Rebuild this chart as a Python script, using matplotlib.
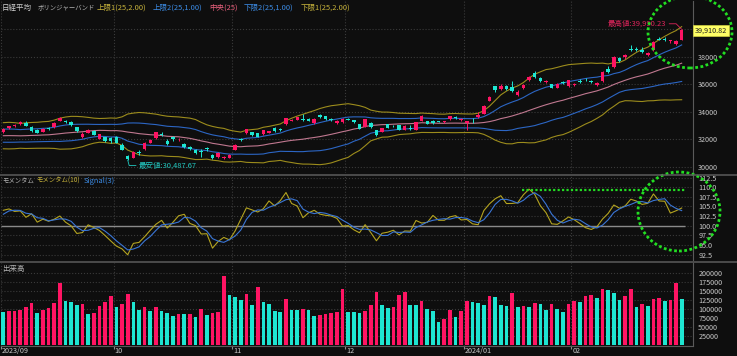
import numpy as np
import pandas as pd
import matplotlib.pyplot as plt
from matplotlib.patches import Ellipse
from matplotlib.lines import Line2D

plt.rcParams['font.family'] = ['Noto Sans CJK JP', 'DejaVu Sans']

# Trading days (TSE holidays removed)
holidays = ['2023-09-18', '2023-10-09', '2023-11-03', '2023-11-23',
            '2024-01-01', '2024-01-02', '2024-01-03', '2024-01-08',
            '2024-02-12', '2024-02-23']
dates = pd.bdate_range('2023-09-01', '2024-03-01', freq='C', holidays=holidays)

# closes before the visible window (needed for the 25-day bands / momentum)
pre_close = [32759.23, 33172.22, 33476.58, 32707.69, 32159.28, 32192.75, 32254.56, 32377.29,
             32204.33, 32473.65, 32059.91, 32238.89, 31766.82, 31626.00, 31450.76, 31565.64,
             31856.71, 32010.26, 32287.21, 31624.28, 32169.99, 32226.97, 32333.46, 32619.34]

close = [
    # Sep
    32710.62, 32939.18, 33036.76, 33241.02, 32991.08, 32606.84, 32467.76, 32776.37, 32706.52, 33168.10,
    33533.09, 33242.59, 33023.78, 32571.03, 32402.41, 32678.62, 32315.05, 32371.90, 31872.52, 31857.62,
    # Oct
    31759.88, 31237.94, 30526.88, 31075.36, 30994.67, 31746.53, 31936.51, 32494.66, 32315.99, 31659.03,
    32040.29, 32042.25, 31430.62, 31259.36, 30999.55, 31062.35, 31269.92, 30601.78, 30991.69, 30696.96,
    30858.85,
    # Nov
    31601.65, 31949.89, 32708.48, 32271.82, 32166.48, 32646.46, 32568.11, 32585.11, 32695.93, 33519.70,
    33424.41, 33585.20, 33388.03, 33354.14, 33451.83, 33625.53, 33447.67, 33408.39, 33321.22, 33486.89,
    # Dec
    33431.51, 33231.27, 32775.82, 33445.90, 32858.31, 32307.86, 32791.80, 32843.72, 32926.35, 32686.25,
    32970.55, 32758.98, 33219.39, 33675.94, 33140.47, 33169.05, 33254.03, 33305.85, 33681.24, 33539.62,
    33464.17,
    # Jan
    33288.29, 33377.42, 33763.18, 34441.72, 35049.86, 35577.11, 35901.79, 35619.18, 35477.75, 35466.17,
    35963.27, 36546.95, 36517.57, 36226.48, 36236.47, 35751.07, 36026.94, 36065.86, 36286.71,
    # Feb
    36011.46, 36158.02, 36354.16, 36160.66, 36119.92, 36863.28, 36897.42, 37963.97, 37703.32, 38157.94,
    38487.24, 38470.38, 38363.61, 38262.16, 39098.68, 39233.71, 39239.52, 39208.03, 39166.19,
    # Mar
    39910.82]

open_ = [
    32500, 32790, 32940, 33100, 33180, 32900, 32700, 32560, 32790, 32900,
    33350, 33300, 33260, 32880, 32150, 32470, 32600, 32050, 32150, 32100,
    32150, 31580, 30770, 30650, 31050, 31300, 31750, 32100, 32380, 31900,
    32150, 31980, 31650, 31420, 31250, 31150, 31330, 30850, 30700, 30620,
    30650,
    31250, 32050, 32450, 32500, 32420, 32350, 32480, 32800, 32720, 33100,
    33350, 33420, 33500, 33450, 33150, 33780, 33700, 33480, 33150, 33250,
    33500, 33400, 33100, 32900, 33200, 32650, 32550, 33100, 32970, 33030,
    32700, 32850, 32700, 33350, 33320, 33320, 33330, 33230, 33450, 33650,
    33380,
    33190, 33400, 33600, 33850, 34800, 35850, 35650, 35900, 35800, 35250,
    35700, 36300, 36800, 36450, 36150, 36000, 35750, 36150, 35850,
    35950, 36250, 36400, 36250, 35950, 36200, 37100, 37250, 37880, 37950,
    38550, 38550, 38520, 38150, 38500, 39300, 39300, 39150, 38900,
    39250]

high = [
    32840, 32990, 33120, 33320, 33320, 32950, 32760, 32840, 32870, 33230,
    33630, 33420, 33300, 32900, 32490, 32740, 32650, 32410, 32180, 32150,
    32250, 31700, 30850, 31130, 31250, 31790, 32000, 32540, 32560, 31980,
    32260, 32120, 31700, 31480, 31300, 31300, 31450, 30900, 31050, 30760,
    30900,
    31650, 32120, 32770, 32560, 32470, 32700, 32620, 32880, 32800, 33560,
    33480, 33620, 33850, 33510, 33520, 33800, 33720, 33540, 33400, 33520,
    33540, 33420, 33130, 33480, 33220, 32700, 32830, 33140, 33020, 33060,
    33000, 33000, 33250, 33740, 33360, 33380, 33360, 33340, 33720, 33690,
    33520,
    33330, 33570, 33990, 34510, 35140, 35900, 35990, 35920, 36200, 35560,
    36010, 36600, 36984, 36520, 36300, 36040, 36080, 36200, 36330,
    36120, 36370, 36470, 36330, 36190, 36940, 37290, 38040, 37960, 38200,
    38865, 38690, 38700, 38340, 39160, 39430, 39430, 39250, 39200,
    39990.23]

low = [
    32420, 32720, 32880, 33000, 32960, 32560, 32420, 32520, 32670, 32850,
    33300, 33180, 32970, 32520, 32080, 32420, 32280, 31990, 31820, 31760,
    31700, 31200, 30487.67, 30610, 30870, 31250, 31700, 32050, 32250, 31600,
    31850, 31900, 31380, 31200, 30960, 30700, 31150, 30550, 30650, 30550,
    30600,
    31200, 31900, 32400, 32240, 32140, 32300, 32430, 32540, 32600, 33050,
    33300, 33390, 33350, 33300, 33100, 33550, 33420, 33350, 33100, 33200,
    33380, 33180, 32740, 32880, 32830, 32210, 32520, 32800, 32860, 32640,
    32680, 32680, 32680, 33320, 33100, 33140, 33230, 33190, 33420, 33500,
    33360,
    32693, 33210, 33560, 33800, 34750, 35400, 35600, 35580, 35400, 35170,
    35650, 36250, 36460, 36160, 36080, 35700, 35700, 36000, 35800,
    35880, 36080, 36250, 36100, 35880, 36160, 36800, 37200, 37640, 37860,
    38400, 38410, 38300, 38080, 38420, 39200, 39170, 38980, 38880,
    39240]

volume = [
    93000, 93800, 94500, 98000, 105000, 118000, 88000, 98000, 102000, 117000,
    172000, 121000, 118500, 111000, 115000, 86000, 89000, 109000, 119000, 136000,
    106000, 113000, 142000, 118500, 98000, 105000, 93500, 105000, 94000, 88000,
    80000, 86000, 85000, 87000, 78000, 101000, 83000, 89000, 92500, 191500,
    138000,
    134000, 125000, 142500, 111000, 161000, 119500, 115000, 95500, 91500, 128000,
    98000, 96500, 99000, 96000, 79500, 84500, 86000, 88000, 92500, 156500,
    91700, 91400, 89800, 94400, 110000, 148000, 110000, 102000, 104600, 139000,
    147000, 112000, 110200, 122000, 100000, 93500, 63000, 71300, 98000, 77000,
    93500,
    122000, 120400, 116700, 110200, 135200, 133300, 110200, 108300, 145400, 104600,
    107400, 104600, 116700, 113000, 98100, 113900, 100000, 90700, 114800,
    123100, 120400, 135200, 139800, 131500, 156500, 151900, 145400, 125000, 135200,
    156500, 106500, 113000, 108300, 127800, 129600, 123100, 125000, 172200,
    126900]

month_labels = ['2023/09', '10', '11', '12', '2024/01', '02']
price_ticks = [30000, 32000, 34000, 36000, 38000, 40000]
mom_ticks = [92.5, 95.0, 97.5, 100.0, 102.5, 105.0, 107.5, 110.0, 112.5]
vol_ticks = [25000, 50000, 75000, 100000, 125000, 150000, 175000, 200000]

# Indicators
n_pre = len(pre_close)
s = pd.Series(pre_close + close)
mid = s.rolling(25).mean()
sd = s.rolling(25).std(ddof=0)
mom = s / s.shift(10) * 100
sig = mom.rolling(3).mean()
mid, sd, mom, sig = [v.values[n_pre:] for v in (mid, sd, mom, sig)]

o = np.array(open_, float)
c = np.array(close, float)
h = np.array(high, float)
l = np.array(low, float)
v = np.array(volume, float)
x = np.arange(len(c))
month_pos = pd.Series(np.arange(len(dates)), index=dates).groupby(dates.to_period('M')).first().values[:6] - 0.5

# Colours
BG = '#0e0e0e'
UP = '#ff1463'
DN = '#1ee6d2'
OLIVE = '#9c8c1c'
BLUE = '#2c66c4'
PINK = '#c07890'
GRID = '#3a3a3a'
TXT = '#c8c8c8'
GREEN = '#22dd22'

W, H = 737, 356
L, R = 0.5, 692.7

fig = plt.figure(figsize=(W / 100, H / 100), dpi=100)
fig.patch.set_facecolor(BG)


def panel(top, bottom):
    ax = fig.add_axes([L / W, 1 - bottom / H, (R - L) / W, (bottom - top) / H], facecolor=BG)
    ax.set_xlim(-0.5, 121.95)
    for sp in ('top', 'left', 'bottom'):
        ax.spines[sp].set_visible(False)
    ax.spines['right'].set_color('#5a5a5a')
    ax.yaxis.tick_right()
    ax.tick_params(axis='y', length=0, pad=4, labelsize=5.2, labelcolor=TXT)
    ax.set_xticks(month_pos)
    ax.tick_params(axis='x', length=0, labelbottom=False)
    ax.grid(True, color=GRID, ls=':', lw=0.8)
    ax.set_axisbelow(True)
    return ax


# Price panel
ax_p = panel(1, 173)
ax_p.set_ylim(29542, 42051)
ax_p.set_yticks(price_ticks)
# top label sits under the price tag in the original, so leave it blank
ax_p.set_yticklabels([str(t) for t in price_ticks[:-1]] + [''])

ax_p.plot(x, mid + 2 * sd, color=OLIVE, lw=0.8)
ax_p.plot(x, mid + sd, color=BLUE, lw=0.8)
ax_p.plot(x, mid, color=PINK, lw=0.8)
ax_p.plot(x, mid - sd, color=BLUE, lw=0.8)
ax_p.plot(x, mid - 2 * sd, color=OLIVE, lw=0.8)

cols = np.where(c >= o, UP, DN)
ax_p.vlines(x, l, h, colors=cols, lw=0.7, zorder=3)
body = np.maximum(np.abs(c - o), 45)
ax_p.bar(x, body, bottom=np.minimum(o, c), width=0.62, color=cols, zorder=4)

# high / low annotations
i_hi = int(np.argmax(h))
ax_p.annotate(f'最高値:{h[i_hi]:,.2f}', xy=(i_hi, h[i_hi]), xytext=(-11, 4), textcoords='offset points',
              ha='right', va='center', fontsize=5.4, color='#e0245c',
              arrowprops=dict(arrowstyle='-', color='#e0245c', lw=0.6, shrinkA=0, shrinkB=0,
                              connectionstyle='angle,angleA=0,angleB=135'))
i_lo = int(np.argmin(l))
ax_p.annotate(f'最安値:{l[i_lo]:,.2f}', xy=(i_lo, l[i_lo]), xytext=(8, -4), textcoords='offset points',
              ha='left', va='center', fontsize=5.4, color='#22c8c0',
              arrowprops=dict(arrowstyle='-', color='#22c8c0', lw=0.6, shrinkA=0, shrinkB=0,
                              connectionstyle='angle,angleA=0,angleB=-75'))

# last price tag
ax_p.text(1.0035, c[-1], f'{c[-1]:,.2f}', transform=ax_p.get_yaxis_transform(), clip_on=False,
          ha='left', va='center', fontsize=5.2, color='#202020', zorder=10,
          bbox=dict(boxstyle='square,pad=0.25', fc='#ffff66', ec='#d0d040', lw=0.5))

# Momentum panel
ax_m = panel(176, 260)
ax_m.set_ylim(91.09, 112.91)
ax_m.set_yticks(mom_ticks)
ax_m.set_yticklabels([f'{t:.1f}' for t in mom_ticks])
ax_m.hlines(100, -0.5, len(c) - 0.4, color='#8a8a8a', lw=1.0)
ax_m.plot(x, mom, color='#b4a420', lw=0.8)
ax_m.plot(x, sig, color='#3a76d6', lw=0.8)

# Volume panel
ax_v = panel(263, 346)
ax_v.set_ylim(-2778, 227778)
ax_v.set_yticks(vol_ticks)
ax_v.set_yticklabels([str(t) for t in vol_ticks])
vcols = [DN] + [UP if v[i] > v[i - 1] else DN for i in range(1, len(v))]
ax_v.bar(x, v, width=0.65, color=vcols)
ax_v.spines['bottom'].set_visible(True)
ax_v.spines['bottom'].set_color('#5a5a5a')
ax_v.tick_params(axis='x', length=2, color='#8a8a8a')
for pos, lab in zip(month_pos, month_labels):
    ax_v.text(pos + 0.15, -0.06, lab, transform=ax_v.get_xaxis_transform(),
              ha='left', va='center', fontsize=5.2, color=TXT)


# panel captions
def cap(px, py, s, color, size=5.4):
    fig.text(px / W, 1 - py / H, s, fontsize=size, color=color, ha='left', va='center')


cap(2, 8, '日経平均', '#d0d0d0')
cap(38, 8, 'ボリンジャーバンド', '#b4b4b4', 4.6)
cap(97, 8, '上限1(25,2.00)', '#c8b43c')
cap(153, 8, '上限2(25,1.00)', '#3c8ce6')
cap(209, 8, '中央(25)', '#e8607c')
cap(244, 8, '下限2(25,1.00)', '#3c8ce6')
cap(301, 8, '下限1(25,2.00)', '#c8b43c')
cap(2.5, 181, 'モメンタム', '#b4b4b4', 4.6)
cap(36, 181, 'モメンタム(10)', '#c8b43c', 4.6)
cap(84, 181, 'Signal(3)', '#3c8ce6')
cap(2.5, 268.5, '出来高', '#b4b4b4')

# separators between panels
for py in (174.5, 261.5):
    fig.add_artist(Line2D([0, 1], [1 - py / H] * 2, transform=fig.transFigure, color='#5c5c5c', lw=1.1))

# green dotted markup
fig.add_artist(Ellipse((690 / W, 1 - 32 / H), 84 / W, 72 / H, transform=fig.transFigure,
                       fill=False, ec=GREEN, lw=2.0, ls=(0, (1, 0.9))))
fig.add_artist(Ellipse((679 / W, 1 - 211.5 / H), 82 / W, 79 / H, transform=fig.transFigure,
                       fill=False, ec=GREEN, lw=2.0, ls=(0, (1, 0.9))))
fig.add_artist(Line2D([522 / W, 685 / W], [1 - 190 / H] * 2, transform=fig.transFigure,
                      color=GREEN, lw=1.6, ls=(0, (1, 1))))

fig.savefig('out.png', dpi=100, facecolor=BG)
